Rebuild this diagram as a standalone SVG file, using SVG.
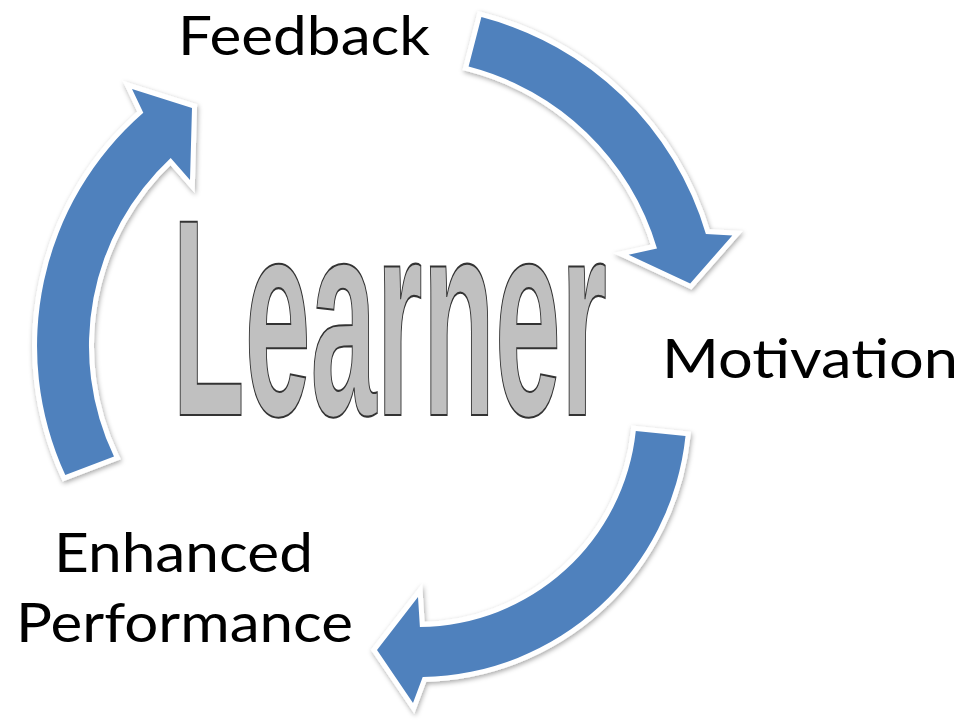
<svg xmlns="http://www.w3.org/2000/svg" width="960" height="724" viewBox="0 0 960 724">
<defs>
<filter id="sh" x="-20%" y="-20%" width="140%" height="140%">
<feDropShadow dx="1" dy="2" stdDeviation="2.5" flood-color="#000" flood-opacity="0.35"/>
</filter>
<style>
.arrow{fill:#4F81BD;stroke:#fff;stroke-width:10;stroke-linejoin:miter;paint-order:stroke;filter:url(#sh)}
.lbl{font-family:Lato,"Open Sans","Liberation Sans",sans-serif;font-size:55px;fill:#000}
.big{font-family:"Liberation Sans",Arial,sans-serif;font-weight:bold;font-size:100px;fill:#C0C0C0;stroke:#333;stroke-width:1.6;vector-effect:non-scaling-stroke}
</style>
</defs>
<rect width="960" height="724" fill="#fff"/>
<g id="connectors">
<path class="arrow" d="M481.4,17.1 A317,317 0 0 1 705.9,234 L732.3,235.5 L690.2,283.5 L628.6,254.7 L657,248.5 A266,266 0 0 0 468.6,66.5 Z"/>
<path class="arrow" d="M685.5,436.1 A269,269 0 0 1 422.7,677 L413,703 L377,650 L418,597 L419.9,627 A219,219 0 0 0 635.8,430.9 Z"/>
<path class="arrow" d="M65.3,475.1 A309,309 0 0 1 143.3,112.8 L132,89 L192,108 L190,180 L170.7,158 A257,257 0 0 0 114,456.6 Z"/>
</g>
<g id="learner">
<text class="big" transform="translate(172.3,415) scale(1.185,2.81)" x="0" y="0">Learner</text>
</g>
<g id="feedback">
<text class="lbl" x="178" y="55" textLength="252" lengthAdjust="spacingAndGlyphs">Feedback</text>
</g>
<g id="motivation">
<text class="lbl" x="662" y="378" textLength="296" lengthAdjust="spacingAndGlyphs">Motivation</text>
</g>
<g id="enhanced-performance">
<text class="lbl" x="54" y="572" textLength="259" lengthAdjust="spacingAndGlyphs">Enhanced</text>
<text class="lbl" x="16" y="642" textLength="337" lengthAdjust="spacingAndGlyphs">Performance</text>
</g>
</svg>
